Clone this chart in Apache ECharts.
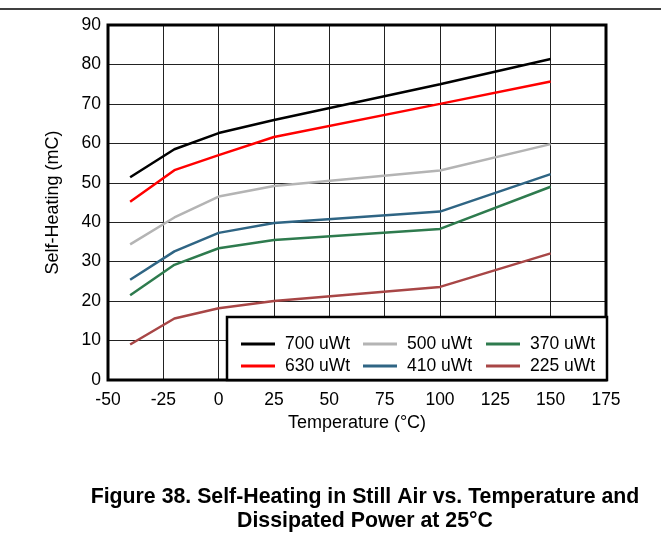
<!DOCTYPE html>
<html>
<head>
<meta charset="utf-8">
<script src="https://cdn.jsdelivr.net/npm/echarts@6/dist/echarts.min.js"></script>
<style>
html,body{margin:0;padding:0;background:#fff;}
#chart{width:661px;height:548px;}
</style>
</head>
<body>
<div id="chart"></div>
<script>
var temps = [-40, -20, 0, 25, 100, 150];
var p700 = [51.4, 58.5, 62.6, 65.9, 75.0, 81.4];
var p630 = [45.2, 53.2, 57.0, 61.6, 70.0, 75.7];
var p500 = [34.4, 41.2, 46.5, 49.2, 53.1, 59.8];
var p410 = [25.4, 32.6, 37.3, 39.8, 42.7, 52.2];
var p370 = [21.5, 29.2, 33.4, 35.5, 38.3, 49.0];
var p225 = [9.0, 15.6, 18.2, 20.0, 23.6, 32.1];
var seriesNames = ['700 uWt', '630 uWt', '500 uWt', '410 uWt', '370 uWt', '225 uWt'];
var seriesValues = [p700, p630, p500, p410, p370, p225];
var xTicks = [-50, -25, 0, 25, 50, 75, 100, 125, 150, 175];
var yTicks = [0, 10, 20, 30, 40, 50, 60, 70, 80, 90];
var titleLines = ['Figure 38. Self-Heating in Still Air vs. Temperature and', 'Dissipated Power at 25°C'];

var colors = ['#000000', '#ff0000', '#b4b4b4', '#2f6584', '#2e7b4e', '#a84646'];
var FONT = 'Liberation Sans, Arial, sans-serif';

function pairs(vals) { return temps.map(function (t, i) { return [t, vals[i]]; }); }

var series = seriesNames.map(function (n, i) {
  return {
    name: n, type: 'line', data: pairs(seriesValues[i]), symbol: 'none',
    lineStyle: { color: colors[i], width: 2.5 }, itemStyle: { color: colors[i] },
    z: 2, animation: false
  };
});

var colX = [236, 358, 481];
var rowY = [330, 352];
var legendOrder = [[0, 2, 4], [1, 3, 5]];
var legends = [];
legendOrder.forEach(function (row, r) {
  row.forEach(function (si, c) {
    legends.push({
      data: [seriesNames[si]], left: colX[c], top: rowY[r], icon: 'rect',
      itemWidth: 34, itemHeight: 3, selectedMode: false, z: 10,
      textStyle: { fontFamily: FONT, fontSize: 17.5, color: '#000', padding: [0, 0, 0, 5] }
    });
  });
});

var chart = echarts.init(document.getElementById('chart'));
chart.setOption({
  animation: false,
  backgroundColor: '#fff',
  grid: { left: 108, right: 55, top: 25, bottom: 168, show: true, borderColor: '#000', borderWidth: 3, z: 5 },
  xAxis: {
    type: 'value', min: xTicks[0], max: xTicks[xTicks.length - 1], interval: 25,
    name: 'Temperature (°C)', nameLocation: 'middle', nameGap: 32,
    nameTextStyle: { fontFamily: FONT, fontSize: 18, color: '#000' },
    axisLine: { show: false }, axisTick: { show: false },
    axisLabel: { fontFamily: FONT, fontSize: 17.5, color: '#000', margin: 11 },
    splitLine: { show: true, lineStyle: { color: '#222', width: 1 } }
  },
  yAxis: {
    type: 'value', min: yTicks[0], max: yTicks[yTicks.length - 1], interval: 10,
    name: 'Self-Heating (mC)', nameLocation: 'middle', nameGap: 46,
    nameTextStyle: { fontFamily: FONT, fontSize: 18, color: '#000' },
    axisLine: { show: false }, axisTick: { show: false },
    axisLabel: { fontFamily: FONT, fontSize: 17.5, color: '#000', margin: 7 },
    splitLine: { show: true, lineStyle: { color: '#222', width: 1 } }
  },
  legend: legends,
  graphic: [
    { type: 'line', shape: { x1: 0, y1: 9, x2: 661, y2: 9 }, style: { stroke: '#000', lineWidth: 1.5 }, z: 1 },
    { type: 'rect', shape: { x: 227, y: 317, width: 380, height: 63 }, style: { fill: '#fff', stroke: '#000', lineWidth: 2.5 }, z: 6 },
    { type: 'text', x: 365, y: 497, style: { text: titleLines[0], font: 'bold 21.3px ' + FONT, fill: '#000', align: 'center', verticalAlign: 'middle' }, z: 1 },
    { type: 'text', x: 365, y: 521, style: { text: titleLines[1], font: 'bold 21.3px ' + FONT, fill: '#000', align: 'center', verticalAlign: 'middle' }, z: 1 }
  ],
  series: series
});
</script>
</body>
</html>
